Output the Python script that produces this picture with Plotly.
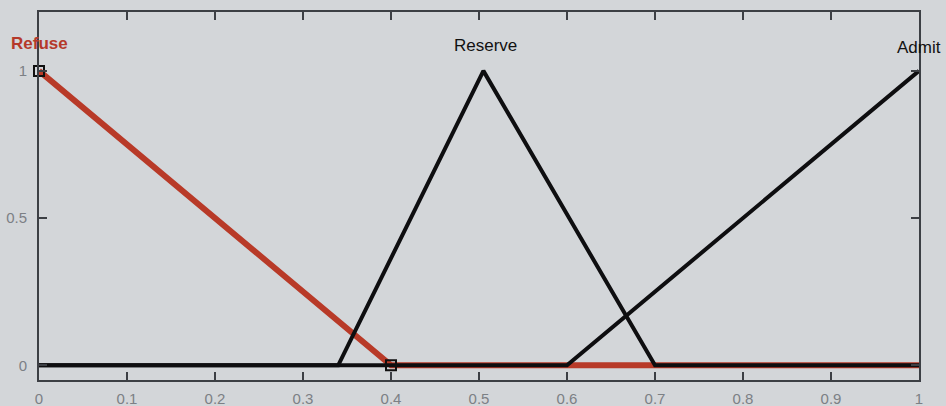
import plotly.graph_objects as go

# Membership function definitions (x breakpoints, y values)
refuse_x = [0.0, 0.4, 1.0]
refuse_y = [1.0, 0.0, 0.0]
reserve_x = [0.0, 0.34, 0.505, 0.7, 1.0]
reserve_y = [0.0, 0.0, 1.0, 0.0, 0.0]
admit_x = [0.0, 0.6, 1.0]
admit_y = [0.0, 0.0, 1.0]
marker_x = [0.0, 0.4]
marker_y = [1.0, 0.0]

labels = ["Refuse", "Reserve", "Admit"]
label_x = [0.0, 0.507, 1.0]
label_y = [1.094, 1.087, 1.08]
label_colors = ["#b5392a", "#111111", "#111111"]
label_bold = [True, False, False]

x_ticks = [0, 0.1, 0.2, 0.3, 0.4, 0.5, 0.6, 0.7, 0.8, 0.9, 1]
x_ticktext = ["0", "0.1", "0.2", "0.3", "0.4", "0.5", "0.6", "0.7", "0.8", "0.9", "1"]
y_ticks = [0, 0.5, 1]
y_ticktext = ["0", "0.5", "1"]

bg = "#d3d6d9"
red = "#b83a28"

fig = go.Figure()
fig.add_trace(go.Scatter(x=refuse_x, y=refuse_y, mode="lines",
                         line=dict(color=red, width=6), hoverinfo="skip"))
fig.add_trace(go.Scatter(x=reserve_x, y=reserve_y, mode="lines",
                         line=dict(color="#0e0e10", width=4), hoverinfo="skip"))
fig.add_trace(go.Scatter(x=admit_x, y=admit_y, mode="lines",
                         line=dict(color="#0e0e10", width=4), hoverinfo="skip"))
fig.add_trace(go.Scatter(x=marker_x, y=marker_y, mode="markers",
                         marker=dict(symbol="square-open", size=10, color="#101010",
                                     line=dict(width=2)),
                         hoverinfo="skip", cliponaxis=False))

for t, x, y, c, b in zip(labels, label_x, label_y, label_colors, label_bold):
    fig.add_annotation(x=x, y=y, xref="x", yref="y", text=f"<b>{t}</b>" if b else t,
                       showarrow=False, font=dict(family="Liberation Sans, Arial", size=17, color=c),
                       xanchor="center", yanchor="middle")

axis_common = dict(showgrid=False, zeroline=False, showline=True, linecolor="#3c3f44",
                   linewidth=2, mirror="ticks", ticks="inside", ticklen=8,
                   tickcolor="#3c3f44", tickwidth=2, automargin=False,
                   tickfont=dict(family="Liberation Sans, Arial", size=15, color="#7c8085"))

fig.update_layout(
    width=946, height=406,
    margin=dict(l=39, r=27, t=12, b=26, autoexpand=False),
    paper_bgcolor=bg, plot_bgcolor=bg,
    showlegend=False,
    xaxis=dict(range=[0, 1], tickvals=x_ticks, ticktext=x_ticktext, ticklabelstandoff=4, **axis_common),
    yaxis=dict(range=[-0.05, 1.2], tickvals=y_ticks, ticktext=y_ticktext, ticklabelstandoff=7, **axis_common),
)

fig.write_html("out.html")
